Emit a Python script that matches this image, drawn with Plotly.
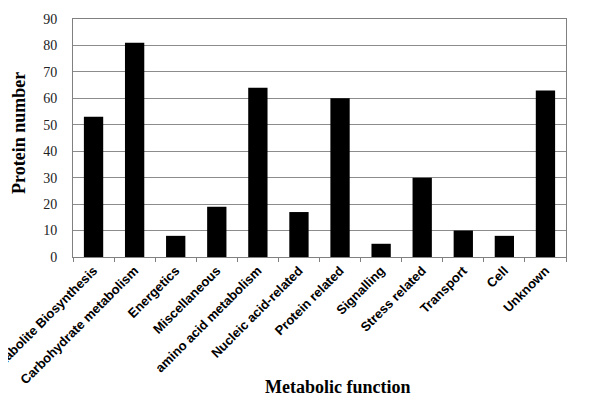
import plotly.graph_objects as go

categories = ["Metabolite Biosynthesis", "Carbohydrate metabolism", "Energetics", "Miscellaneous",
              "amino acid metabolism", "Nucleic acid-related", "Protein related", "Signalling",
              "Stress related", "Transport", "Cell", "Unknown"]
protein_counts = [53, 81, 8, 19, 64, 17, 60, 5, 30, 10, 8, 63]
y_ticks = [0, 10, 20, 30, 40, 50, 60, 70, 80, 90]

fig = go.Figure(go.Bar(x=categories, y=protein_counts, marker=dict(color="black", line=dict(width=0)),
                       width=0.47))

fig.update_layout(
    width=599, height=396,
    margin=dict(l=65, r=41, t=11, b=147),
    plot_bgcolor="white", paper_bgcolor="white",
    showlegend=False,
    xaxis=dict(
        tickangle=-45,
        tickfont=dict(family="Liberation Sans, Arial", size=13, color="black", weight="bold"),
        ticks="outside", tickson="boundaries", ticklen=4, tickcolor="#808080",
        showline=True, linecolor="#808080", linewidth=1, mirror=True,
        showgrid=False, automargin=False,
    ),
    yaxis=dict(
        range=[0, 90], tickvals=y_ticks,
        tickfont=dict(family="Liberation Serif, Times New Roman", size=14, color="#222"),
        ticklabelstandoff=12,
        showgrid=True, gridcolor="#8c8c8c", gridwidth=1,
        showline=True, linecolor="#808080", linewidth=1, mirror=True,
        ticks="", zeroline=False, automargin=False,
    ),
    annotations=[
        dict(text="<b>Protein number</b>", xref="paper", yref="paper", x=-0.11, y=0.52,
             xanchor="center", yanchor="middle", textangle=-90, showarrow=False,
             font=dict(family="Liberation Serif, Times New Roman", size=18, color="black")),
        dict(text="<b>Metabolic function</b>", xref="paper", yref="paper", x=0.537, y=-0.545,
             xanchor="center", yanchor="middle", showarrow=False,
             font=dict(family="Liberation Serif, Times New Roman", size=18, color="black")),
    ],
)

fig.write_html("out.html")
